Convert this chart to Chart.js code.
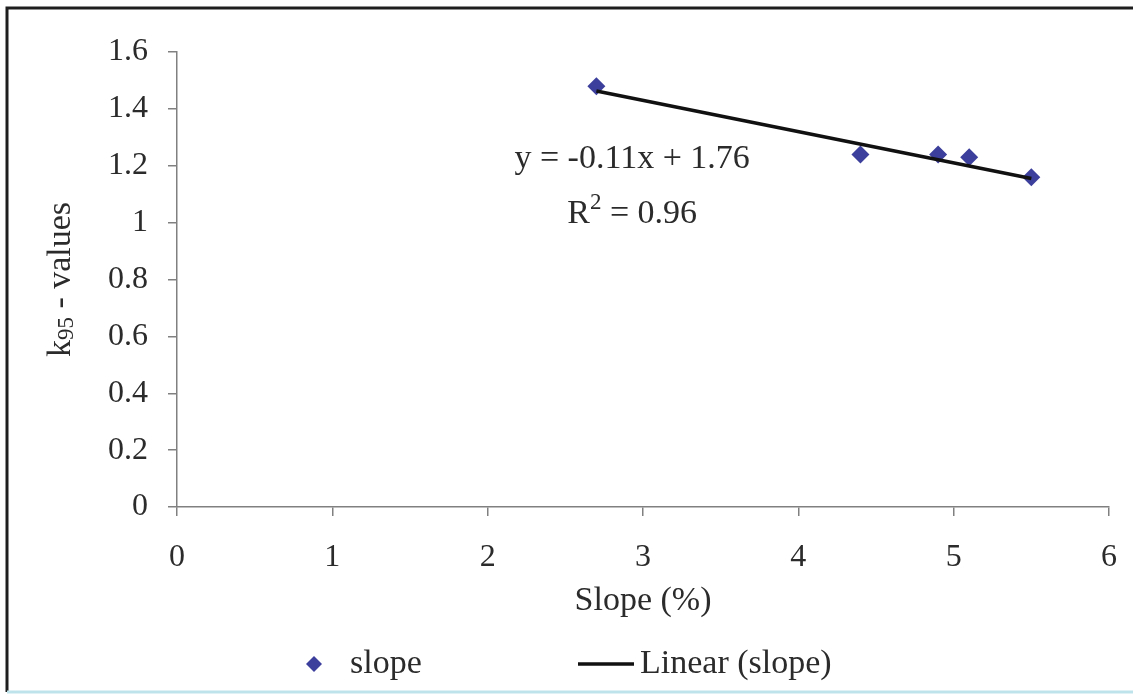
<!DOCTYPE html>
<html lang="en">
<head>
<meta charset="UTF-8">
<title>k95 - values vs slope</title>
<script src="https://cdn.jsdelivr.net/npm/chart.js"></script>
<style>
  body { margin: 0; background: #fff; }
  #wrap { position: relative; width: 1133px; height: 695px; }
</style>
</head>
<body>
<div id="wrap"><canvas id="chart" width="1133" height="695"></canvas></div>
<script>
// data
const slopePct = [2.7, 4.4, 4.9, 5.1, 5.5];
const k95Values = [1.48, 1.24, 1.24, 1.23, 1.16];
const xTickValues = [0, 1, 2, 3, 4, 5, 6];
const xTickLabels = ['0', '1', '2', '3', '4', '5', '6'];
const yTickValues = [0, 0.2, 0.4, 0.6, 0.8, 1, 1.2, 1.4, 1.6];
const yTickLabels = ['0', '0.2', '0.4', '0.6', '0.8', '1', '1.2', '1.4', '1.6'];
// fitted line as printed on the chart
const trendSlope = -0.11;
const trendIntercept = 1.76;
const trendRange = [2.7, 5.5];
const rSquared = '0.96';

const FONT = '"Liberation Serif", "Times New Roman", serif';
const TXT = '#2b2b2b';
const AXIS = '#808080';
const POINT = '#3c3f9b';

const pointData = slopePct.map((x, i) => ({ x: x, y: k95Values[i] }));
const trendData = trendRange.map(x => ({ x: x, y: trendSlope * x + trendIntercept }));

function fmtSigned(v) {
  return (v < 0 ? '- ' : '+ ') + Math.abs(v);
}

// frame, y title, equation and legend
const decor = {
  id: 'decor',
  afterDraw(chart) {
    const ctx = chart.ctx;
    const xs = chart.scales.x, ys = chart.scales.y;
    ctx.save();

    // outer frame like the scanned figure
    ctx.strokeStyle = '#1e1e1e';
    ctx.lineWidth = 3;
    ctx.beginPath();
    ctx.moveTo(7, 692); ctx.lineTo(7, 8); ctx.lineTo(1133, 8);
    ctx.stroke();
    ctx.strokeStyle = '#bfe3ea';
    ctx.beginPath();
    ctx.moveTo(7, 692); ctx.lineTo(1133, 692);
    ctx.stroke();

    ctx.fillStyle = TXT;
    ctx.textBaseline = 'alphabetic';

    // y axis title with subscript
    const big = '34px ' + FONT, small = '23px ' + FONT;
    ctx.font = big; const wk = ctx.measureText('k').width;
    ctx.font = small; const w95 = ctx.measureText('95').width;
    ctx.font = big; const wRest = ctx.measureText(' - values').width;
    const total = wk + w95 + wRest;
    ctx.save();
    ctx.translate(70, (ys.top + ys.bottom) / 2);
    ctx.rotate(-Math.PI / 2);
    let px = -total / 2;
    ctx.font = big; ctx.fillText('k', px, 0); px += wk;
    ctx.font = small; ctx.fillText('95', px, 3); px += w95;
    ctx.font = big; ctx.fillText(' - values', px, 0);
    ctx.restore();

    // trendline equation and R squared
    const cx = xs.getPixelForValue(2.93);
    ctx.font = big;
    ctx.textAlign = 'center';
    ctx.fillText('y = -' + Math.abs(trendSlope) + 'x ' + fmtSigned(trendIntercept), cx, ys.getPixelForValue(1.235) + 12);
    ctx.textAlign = 'left';
    const rY = ys.getPixelForValue(1.04) + 12;
    const wR = ctx.measureText('R').width;
    const wTail = ctx.measureText(' = ' + rSquared).width;
    ctx.font = small; const w2 = ctx.measureText('2').width;
    let rx = cx - (wR + w2 + wTail) / 2;
    ctx.font = big; ctx.fillText('R', rx, rY); rx += wR;
    ctx.font = small; ctx.fillText('2', rx, rY - 14); rx += w2;
    ctx.font = big; ctx.fillText(' = ' + rSquared, rx, rY);

    // legend
    const ly = 664;
    const ds = chart.data.datasets;
    ctx.fillStyle = POINT;
    ctx.beginPath();
    ctx.moveTo(306, ly); ctx.lineTo(314, ly - 8); ctx.lineTo(322, ly); ctx.lineTo(314, ly + 8);
    ctx.closePath(); ctx.fill();
    ctx.fillStyle = TXT;
    ctx.textBaseline = 'middle';
    ctx.font = big;
    ctx.fillText(ds[0].label, 350, ly);
    ctx.strokeStyle = '#111';
    ctx.lineWidth = 3.5;
    ctx.beginPath(); ctx.moveTo(578, ly); ctx.lineTo(634, ly); ctx.stroke();
    ctx.fillText(ds[1].label, 640, ly);

    ctx.restore();
  }
};

new Chart(document.getElementById('chart'), {
  type: 'scatter',
  data: {
    datasets: [
      {
        label: 'slope',
        data: pointData,
        pointStyle: 'rectRot',
        pointRadius: 9,
        pointBackgroundColor: POINT,
        pointBorderColor: POINT,
        pointBorderWidth: 0,
        order: 2
      },
      {
        label: 'Linear (slope)',
        type: 'line',
        data: trendData,
        borderColor: '#111',
        borderWidth: 3.5,
        pointRadius: 0,
        fill: false,
        order: 1
      }
    ]
  },
  options: {
    responsive: false,
    animation: false,
    devicePixelRatio: 1,
    layout: { padding: { left: 57, top: 52, right: 24, bottom: 74 } },
    plugins: {
      legend: { display: false },
      tooltip: { enabled: false }
    },
    scales: {
      x: {
        type: 'linear',
        min: 0,
        max: 6,
        afterBuildTicks: s => { s.ticks = xTickValues.map(v => ({ value: v })); },
        afterFit: s => {
          s.height = 114;
          // tick padding otherwise widens the side padding
          s.paddingLeft = 0;
          s.paddingRight = 0;
        },
        grid: { display: true, drawOnChartArea: false, drawTicks: true, tickLength: 9, color: AXIS, lineWidth: 1.5 },
        border: { display: true, color: AXIS, width: 1.5 },
        ticks: {
          color: TXT,
          padding: 22,
          maxRotation: 0,
          font: { family: FONT, size: 32 },
          callback: (v, i) => xTickLabels[i]
        },
        title: {
          display: true,
          text: 'Slope (%)',
          color: TXT,
          font: { family: FONT, size: 34 },
          padding: { top: 0, bottom: 0 }
        }
      },
      y: {
        type: 'linear',
        min: 0,
        max: 1.6,
        afterBuildTicks: s => { s.ticks = yTickValues.map(v => ({ value: v })); },
        afterFit: s => { s.width = 120; },
        grid: { display: true, drawOnChartArea: false, drawTicks: true, tickLength: 9, color: AXIS, lineWidth: 1.5 },
        border: { display: true, color: AXIS, width: 1.5 },
        ticks: {
          color: TXT,
          padding: 20,
          font: { family: FONT, size: 32 },
          callback: (v, i) => yTickLabels[i]
        }
      }
    }
  },
  plugins: [decor]
});
</script>
</body>
</html>
